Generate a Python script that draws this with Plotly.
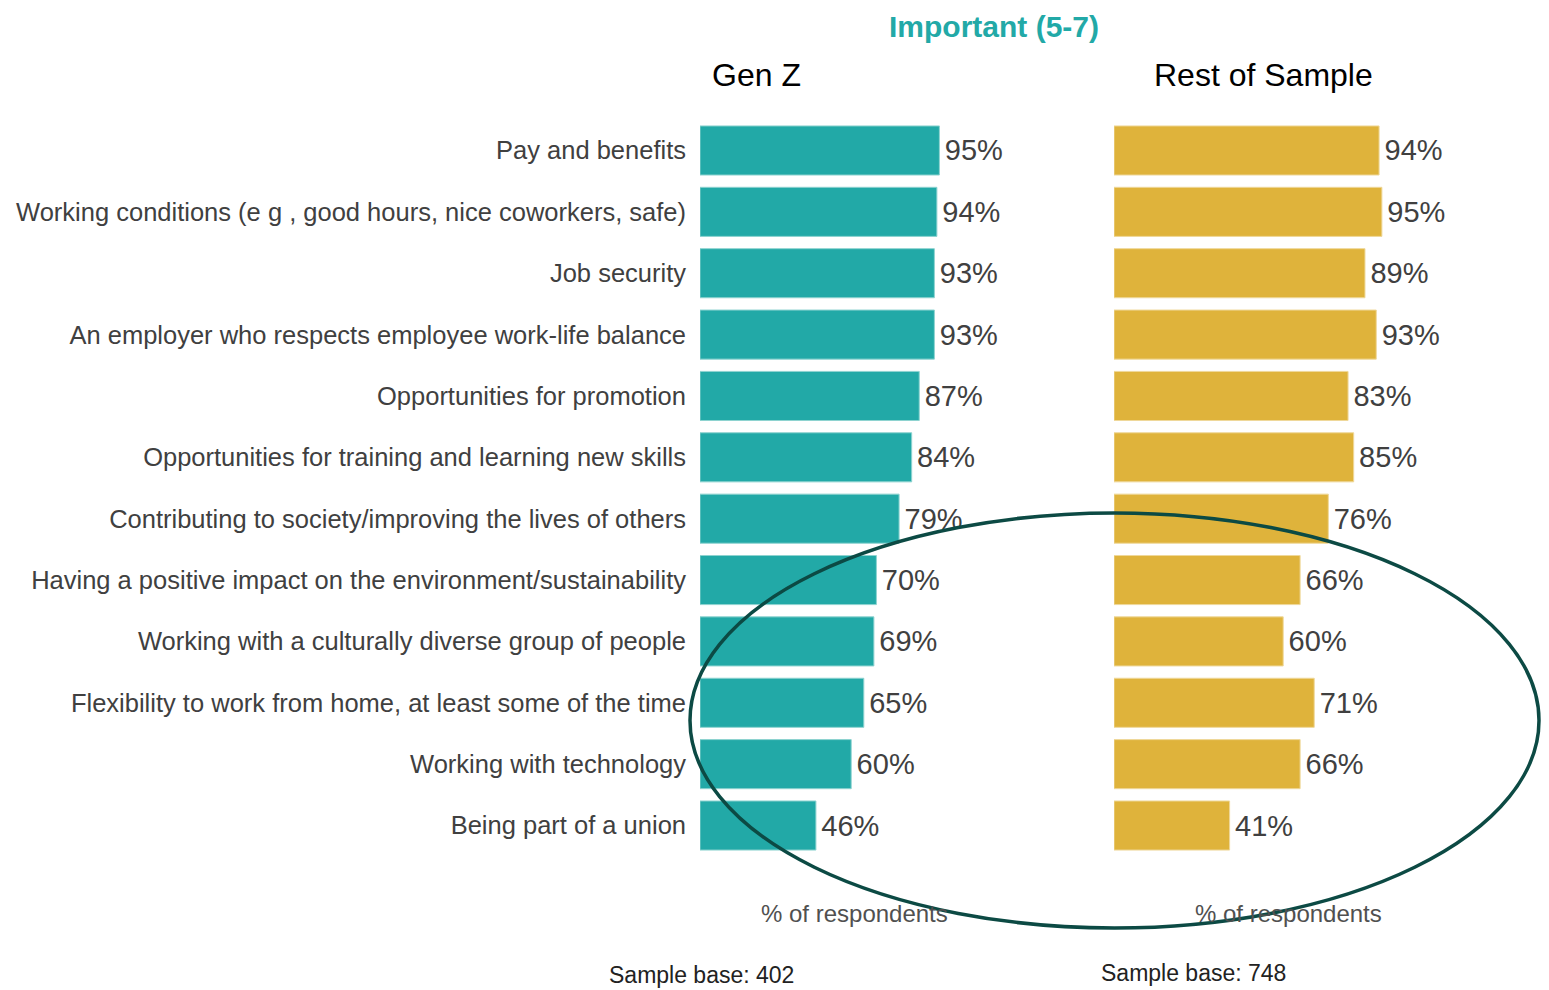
import plotly.graph_objects as go
from plotly.subplots import make_subplots

categories = [
    "Pay and benefits",
    "Working conditions (e g , good hours, nice coworkers, safe)",
    "Job security",
    "An employer who respects employee work-life balance",
    "Opportunities for promotion",
    "Opportunities for training and learning new skills",
    "Contributing to society/improving the lives of others",
    "Having a positive impact on the environment/sustainability",
    "Working with a culturally diverse group of people",
    "Flexibility to work from home, at least some of the time",
    "Working with technology",
    "Being part of a union",
]
gen_z = [95, 94, 93, 93, 87, 84, 79, 70, 69, 65, 60, 46]
rest_of_sample = [94, 95, 89, 93, 83, 85, 76, 66, 60, 71, 66, 41]
group_names = ["Gen Z", "Rest of Sample"]
sample_bases = [402, 748]

# page body adds an 8px margin top/left, so the figure fills the rest of the window
OFF = 8
W, H = 1549 - OFF, 990 - OFF
TEAL = "#22A9A7"
GOLD = "#DFB33B"
FONT = "Liberation Sans, Arial, sans-serif"


def px_x(p):
    return (p - OFF) / W


def px_y(p):
    return 1 - (p - OFF) / H


fig = make_subplots(rows=1, cols=2, shared_yaxes=False)

for i, (vals, color, edge) in enumerate(
        [(gen_z, TEAL, "#8ED3D0"), (rest_of_sample, GOLD, "#EFD89A")]):
    fig.add_trace(go.Bar(
        x=vals, y=categories, orientation="h",
        marker=dict(color=color, line=dict(color=edge, width=1)),
        width=0.8,
        text=[f"\u200a{v}%" for v in vals], textposition="outside",
        textfont=dict(size=29, color="#404040", family=FONT),
        cliponaxis=False, showlegend=False,
    ), row=1, col=i + 1)

ydom = [px_y(856.2), px_y(119.8)]
fig.update_layout(
    width=W, height=H,
    template="none",
    margin=dict(l=0, r=0, t=0, b=0),
    paper_bgcolor="white", plot_bgcolor="white",
    font=dict(family=FONT, color="#404040"),
    bargap=0.2,
    xaxis=dict(domain=[px_x(700), px_x(952)], range=[0, 100],
               visible=False, automargin=False),
    xaxis2=dict(domain=[px_x(1114), px_x(1396)], range=[0, 100],
                visible=False, automargin=False),
    yaxis=dict(domain=ydom, autorange="reversed", showgrid=False,
               zeroline=False, showline=False, ticks="",
               ticklabelstandoff=13, automargin=False,
               tickfont=dict(size=25.5, color="#404040", family=FONT)),
    yaxis2=dict(domain=ydom, autorange="reversed", showgrid=False,
                zeroline=False, showline=False, ticks="",
                showticklabels=False, automargin=False),
)

annotations = [
    dict(text="<b>Important (5-7)</b>", x=px_x(994), y=1, yanchor="top",
         font=dict(size=30, color=TEAL, family=FONT)),
    dict(text=group_names[0], x=px_x(756), y=px_y(75),
         font=dict(size=32, color="#000000", family=FONT)),
    dict(text=group_names[1], x=px_x(1263), y=px_y(75),
         font=dict(size=32, color="#000000", family=FONT)),
    dict(text="% of respondents", x=px_x(855), y=px_y(913),
         font=dict(size=24, color="#505050", family=FONT)),
    dict(text="% of respondents", x=px_x(1288), y=px_y(913),
         font=dict(size=24, color="#505050", family=FONT)),
    dict(text=f"Sample base: {sample_bases[0]}", x=px_x(701), y=px_y(975),
         font=dict(size=23, color="#222222", family=FONT)),
    dict(text=f"Sample base: {sample_bases[1]}", x=px_x(1193), y=px_y(973),
         font=dict(size=23, color="#222222", family=FONT)),
]
for a in annotations:
    a.setdefault("yanchor", "middle")
    fig.add_annotation(xref="paper", yref="paper", showarrow=False,
                       xanchor="center", **a)

fig.add_shape(type="circle", xref="paper", yref="paper",
              x0=px_x(690), x1=px_x(1539), y0=px_y(928), y1=px_y(513),
              line=dict(color="#0C4A44", width=3.5), layer="above")

fig.write_html("out.html")
